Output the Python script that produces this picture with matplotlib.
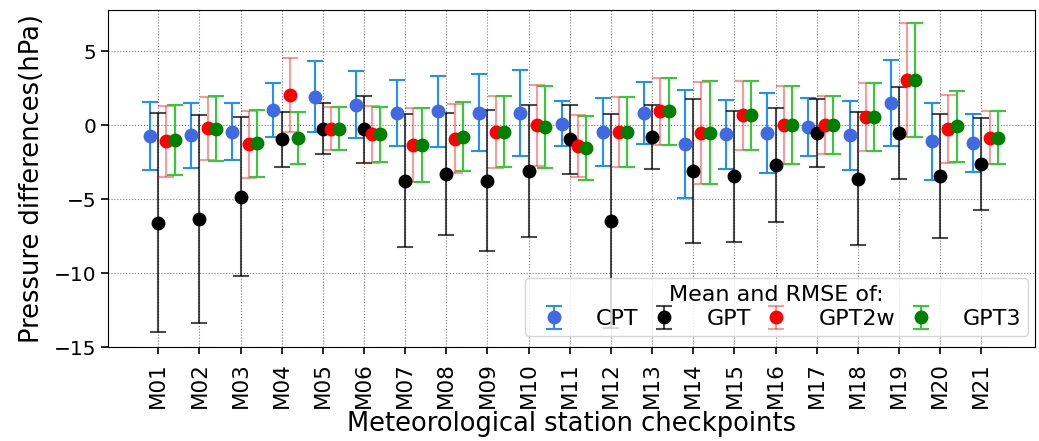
import matplotlib
matplotlib.use("Agg")
import matplotlib.pyplot as plt
import numpy as np

## DATA
stations = ["M%02d" % i for i in range(1, 22)]

cpt_mean = [-0.75, -0.7, -0.45, 1.04, 1.92, 1.38, 0.84, 0.93, 0.84, 0.84, 0.09,
            -0.45, 0.84, -1.27, -0.63, -0.52, -0.14, -0.7, 1.47, -1.08, -1.2]
cpt_rmse = [2.3, 2.2, 1.93, 1.83, 2.4, 2.25, 2.23, 2.4, 2.6, 2.9, 1.53,
            2.28, 2.1, 3.67, 2.36, 2.7, 1.97, 2.35, 2.9, 2.6, 1.95]

gpt_mean = [-6.6, -6.35, -4.84, -0.97, -0.23, -0.29, -3.75, -3.28, -3.75, -3.12, -0.97,
            -6.46, -0.79, -3.12, -3.46, -2.71, -0.52, -3.62, -0.52, -3.46, -2.62]
gpt_rmse = [7.4, 7.0, 5.37, 1.87, 1.74, 2.28, 4.47, 4.12, 4.76, 4.46, 2.3,
            7.23, 2.15, 4.87, 4.44, 3.84, 2.3, 4.5, 3.1, 4.2, 3.12]

gpt2w_mean = [-1.1, -0.22, -1.29, 2.03, -0.25, -0.63, -1.36, -0.93, -0.45, 0.0, -1.42,
              -0.45, 0.93, -0.52, 0.66, 0.0, 0.0, 0.56, 3.05, -0.25, -0.86]
gpt2w_rmse = [2.4, 2.15, 2.26, 2.5, 1.45, 1.9, 2.5, 2.33, 2.45, 2.73, 2.1,
              2.35, 2.25, 3.45, 2.35, 2.65, 1.95, 2.3, 3.84, 2.3, 1.8]

gpt3_mean = [-1.0, -0.25, -1.24, -0.86, -0.25, -0.63, -1.36, -0.79, -0.45, -0.14, -1.54,
             -0.45, 0.93, -0.52, 0.66, 0.0, 0.0, 0.56, 3.05, -0.07, -0.86]
gpt3_rmse = [2.35, 2.2, 2.26, 1.78, 1.45, 1.87, 2.5, 2.33, 2.4, 2.77, 2.15,
             2.37, 2.25, 3.48, 2.35, 2.65, 1.98, 2.3, 3.84, 2.4, 1.8]

## STYLE
series = [
    ("CPT",    cpt_mean,   cpt_rmse,   -0.2, "royalblue", "dodgerblue", 1.0),
    ("GPT",    gpt_mean,   gpt_rmse,    0.0, "black",     "black",      0.7),
    ("GPT2w",  gpt2w_mean, gpt2w_rmse,  0.2, "red",       "red",        0.4),
    ("GPT3",   gpt3_mean,  gpt3_rmse,   0.4, "green",     "limegreen",  1.0),
]

fig = plt.figure(figsize=(10.39, 4.41), dpi=100)
ax = fig.add_axes([0.104, 0.213, 0.892, 0.765])

x = np.arange(len(stations))
for name, mean, rmse, offset, mcolor, ecolor, alpha in series:
    eb = ax.errorbar(x + offset, mean, yerr=rmse, fmt="o", color=mcolor,
                     ecolor=ecolor, elinewidth=1.5, capsize=6, capthick=1.5,
                     markersize=9, label=name)
    for art in eb[1] + eb[2]:
        art.set_alpha(alpha)

ax.set_xticks(x)
ax.set_xticklabels(stations, rotation=90, fontsize=15.5)
ax.tick_params(axis="y", labelsize=14.5)
ax.tick_params(length=5, width=1.2)
ax.tick_params(axis="x", pad=6)
ax.set_xlim(-1.22, 21.3)
ax.set_ylim(-15, 7.8)
ax.set_yticks([-15, -10, -5, 0, 5])
ax.grid(True, linestyle=":", color="gray", linewidth=0.8)

ax.set_xlabel("Meteorological station checkpoints", fontsize=18.5, labelpad=2)
ax.set_ylabel("Pressure differences(hPa)", fontsize=18.5, labelpad=6)

leg = ax.legend(loc="lower right", ncol=4, fontsize=16, title="Mean and RMSE of:",
                title_fontsize=16, columnspacing=0.15, handletextpad=0.9,
                borderpad=0.3, labelspacing=0.2, borderaxespad=0,
                bbox_to_anchor=(0.993, 0.033))

plt.savefig("out.png", dpi=100)
